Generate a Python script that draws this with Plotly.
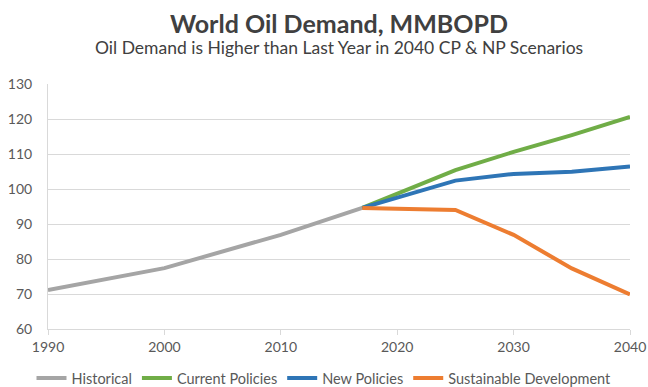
import plotly.graph_objects as go

hist_years = [1990, 2000, 2010, 2017]
hist_vals = [71.1, 77.4, 86.9, 94.6]
proj_years = [2017, 2025, 2030, 2035, 2040]
cp_vals = [94.6, 105.4, 110.6, 115.4, 120.6]
np_vals = [94.6, 102.4, 104.3, 104.9, 106.4]
sd_vals = [94.6, 94.0, 86.9, 77.3, 69.9]

series = [
    ("Historical", hist_years, hist_vals, "#A5A5A5"),
    ("Current Policies", proj_years, cp_vals, "#70AD47"),
    ("New Policies", proj_years, np_vals, "#2E75B6"),
    ("Sustainable Development", proj_years, sd_vals, "#ED7D31"),
]

fig = go.Figure()
for name, xs, ys, col in series:
    fig.add_trace(go.Scatter(x=xs, y=ys, name=name, mode="lines",
                             line=dict(color=col, width=4)))

font_family = "Lato, 'Open Sans', sans-serif"
fig.update_layout(
    width=648, height=387,
    margin=dict(l=48, r=18, t=84, b=58, autoexpand=False),
    paper_bgcolor="white", plot_bgcolor="white",
    font=dict(family=font_family, color="#595959", size=14),
    showlegend=True,
    legend=dict(orientation="h", x=0.5, xanchor="center", xref="container",
                y=1 - 378 / 387, yanchor="middle", yref="container",
                font=dict(size=14.5, color="#595959"), itemwidth=30,
                traceorder="normal", tracegroupgap=0),
)
fig.add_annotation(text="<b>World Oil Demand, MMBOPD</b>", xref="paper", yref="paper",
                   x=0.5, y=1.0, yanchor="middle", yshift=61, showarrow=False,
                   font=dict(size=25, color="#404040", family=font_family))
fig.add_annotation(text="Oil Demand is Higher than Last Year in 2040 CP &amp; NP Scenarios",
                   xref="paper", yref="paper", x=0.5, y=1.0, yanchor="middle", yshift=37,
                   showarrow=False,
                   font=dict(size=17.5, color="#404040", family=font_family))
fig.update_xaxes(range=[1990, 2040], tickvals=[1990, 2000, 2010, 2020, 2030, 2040],
                 showgrid=False, showline=True, linecolor="#D9D9D9", linewidth=1,
                 ticks="outside", ticklen=5, tickcolor="#D9D9D9",
                 tickfont=dict(size=14, color="#595959"), zeroline=False)
fig.update_yaxes(range=[60, 130], tickvals=list(range(60, 131, 10)),
                 showgrid=True, gridcolor="#D9D9D9", gridwidth=1,
                 showline=True, linecolor="#D9D9D9", zeroline=False,
                 tickfont=dict(size=14, color="#595959"), ticks="", ticklabelstandoff=12)
fig.write_html("out.html")
